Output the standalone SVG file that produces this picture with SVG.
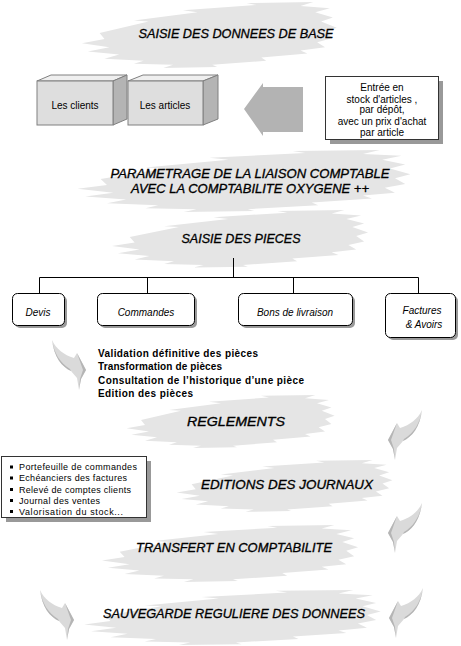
<svg xmlns="http://www.w3.org/2000/svg" xmlns:xlink="http://www.w3.org/1999/xlink" width="461" height="646" viewBox="0 0 461 646">
<style>
.t{font-family:"Liberation Sans",Arial,sans-serif;font-style:italic;font-size:12px;text-anchor:middle;fill:#000;stroke:#000;stroke-width:0.3}
.s{font-family:"Liberation Sans",Arial,sans-serif;font-size:10px;fill:#000}
.c{text-anchor:middle}
.i{font-style:italic}
.b{font-weight:bold}
.sm{font-size:9px}
.brush{fill:#e5e5e5}
.shadow{fill:#999}
.pbox{fill:#fff;stroke:#000;stroke-width:1}
.nbox{fill:#fff;stroke:#333;stroke-width:1}
.line{stroke:#000;stroke-width:1;fill:none}
.front{fill:#dedede;stroke:#808080;stroke-width:1}
.top{fill:#efefef;stroke:#808080;stroke-width:1}
.side{fill:#b4b4b4;stroke:#808080;stroke-width:1}
.sw{fill:#dadada}
.swd{fill:#b5b5b5}
</style>
<defs>
<path id="brush" d="M20,30 L70,19 L55,18 L120,10 L105,8 L180,3 L170,1 L238,0 L225,4 L255,6 L240,10 L258,15 L246,19 L262,25 L250,29 L258,35 L242,39 L250,44 L225,47 L232,50 L185,54 L190,57 L135,61 L140,63 L85,64 L95,61 L55,60 L65,57 L25,55 L40,51 L8,48 L30,44 L2,40 L25,36 Z"/>
<g id="swoosh">
<path class="sw" d="M52,13 C48,22 40,28 30,31 L27,26 L18,43 L23,52 L25,63 L27,51 L33,44 C42,40 50,30 52,13 Z"/>
<path class="swd" d="M27,26 L18,43 L23,52 L25,63 L24,52 L21,43 Z"/>
<path class="swd" d="M52,13 C50,30 42,40 33,44 L34,42 C44,36 50,26 52,13 Z"/>
</g>
</defs>

<g id="title-saisie-base">
<use xlink:href="#brush" class="brush" transform="translate(80,2) scale(0.98,1.03)"/>
<text class="t" x="236" y="37.5" textLength="195" lengthAdjust="spacingAndGlyphs">SAISIE DES DONNEES DE BASE</text>
</g>

<g id="box-clients">
<polygon class="top" points="37,81 51,75 127,75 113,81"/>
<polygon class="side" points="113,81 127,75 127,119 113,125"/>
<rect class="front" x="37" y="81" width="76" height="44"/>
<text class="s c" x="75" y="109">Les clients</text>
</g>

<g id="box-articles">
<polygon class="top" points="128,81 143,75 218,75 203,81"/>
<polygon class="side" points="203,81 218,75 218,119 203,125"/>
<rect class="front" x="128" y="81" width="75" height="44"/>
<text class="s c" x="165" y="109">Les articles</text>
</g>

<g id="arrow-entree">
<polygon fill="#b3b3b3" points="244,109 263,83 263,87 303,87 303,132 263,132 263,136"/>
</g>

<g id="note-stock">
<rect class="shadow" x="330" y="81" width="113" height="63"/>
<rect class="nbox" x="325.5" y="76.5" width="113" height="63"/>
<text class="s c" x="382" y="90.5">Entrée en</text>
<text class="s c" x="382" y="102.5">stock d'articles ,</text>
<text class="s c" x="382" y="113">par dépôt,</text>
<text class="s c" x="382" y="124.5">avec un prix d'achat</text>
<text class="s c" x="382" y="135.5">par article</text>
</g>

<g id="title-parametrage">
<use xlink:href="#brush" class="brush" transform="translate(75,150) scale(1.28,0.97)"/>
<text class="t" x="250" y="178" textLength="279" lengthAdjust="spacingAndGlyphs">PARAMETRAGE DE LA LIAISON COMPTABLE</text>
<text class="t" x="250" y="193" textLength="238" lengthAdjust="spacingAndGlyphs">AVEC LA COMPTABILITE OXYGENE ++</text>
</g>

<g id="title-saisie-pieces">
<use xlink:href="#brush" class="brush" transform="translate(110,210) scale(0.985,0.9)"/>
<text class="t" x="241" y="243" textLength="119" lengthAdjust="spacingAndGlyphs">SAISIE DES PIECES</text>
</g>

<g id="connectors">
<path class="line" d="M233.5,258 V277.5 M39.5,277.5 H418.5 M39.5,277.5 V293 M147.5,277.5 V293 M293.5,277.5 V293 M418.5,277.5 V293"/>
<use xlink:href="#swoosh" transform="translate(104,327) scale(-1,1)"/>
<use xlink:href="#swoosh" transform="translate(370,397)"/>
<use xlink:href="#swoosh" transform="translate(370,490)"/>
<use xlink:href="#swoosh" transform="translate(92,577) scale(-1,1)"/>
<use xlink:href="#swoosh" transform="translate(371,575)"/>
</g>

<g id="proc-devis">
<rect class="shadow" x="15" y="296" width="52" height="32" rx="5"/>
<rect class="pbox" x="12.5" y="293.5" width="52" height="32" rx="5"/>
<text class="s c i" x="38" y="315.5">Devis</text>
</g>

<g id="proc-commandes">
<rect class="shadow" x="100" y="296" width="97" height="32" rx="5"/>
<rect class="pbox" x="97.5" y="293.5" width="97" height="32" rx="5"/>
<text class="s c i" x="146" y="315.5">Commandes</text>
</g>

<g id="proc-bons">
<rect class="shadow" x="241" y="296" width="114" height="32" rx="5"/>
<rect class="pbox" x="238.5" y="293.5" width="114" height="32" rx="5"/>
<text class="s c i" x="295" y="315.5">Bons de livraison</text>
</g>

<g id="proc-factures">
<rect class="shadow" x="388" y="296" width="70" height="44" rx="5"/>
<rect class="pbox" x="385.5" y="293.5" width="70" height="44" rx="5"/>
<text class="s c i" x="422" y="313.5">Factures</text>
<text class="s c i" x="424" y="327.5">&amp; Avoirs</text>
</g>

<g id="list-pieces">
<text class="s b" x="98" y="356.5" textLength="160" lengthAdjust="spacing">Validation définitive des pièces</text>
<text class="s b" x="98" y="370" textLength="124" lengthAdjust="spacing">Transformation de pièces</text>
<text class="s b" x="98" y="383.5" textLength="206" lengthAdjust="spacing">Consultation de l’historique d’une pièce</text>
<text class="s b" x="98" y="396.5" textLength="95" lengthAdjust="spacing">Edition des pièces</text>
</g>

<g id="title-reglements">
<use xlink:href="#brush" class="brush" transform="translate(125,395) scale(0.8,0.83)"/>
<text class="t" x="236" y="426" textLength="98" lengthAdjust="spacingAndGlyphs">REGLEMENTS</text>
</g>

<g id="list-editions">
<rect class="shadow" x="6" y="461" width="145" height="61"/>
<rect class="nbox" x="1.5" y="456.5" width="145" height="61"/>
<rect x="10" y="465.5" width="3" height="3" fill="#000"/>
<rect x="10" y="476.5" width="3" height="3" fill="#000"/>
<rect x="10" y="488" width="3" height="3" fill="#000"/>
<rect x="10" y="499" width="3" height="3" fill="#000"/>
<rect x="10" y="510" width="3" height="3" fill="#000"/>
<text class="s sm" x="19" y="470" textLength="118" lengthAdjust="spacing">Portefeuille de commandes</text>
<text class="s sm" x="19" y="481" textLength="108" lengthAdjust="spacing">Echéanciers des factures</text>
<text class="s sm" x="19" y="493" textLength="112" lengthAdjust="spacing">Relevé de comptes clients</text>
<text class="s sm" x="19" y="504" textLength="81" lengthAdjust="spacing">Journal des ventes</text>
<text class="s sm" x="19" y="515" textLength="104" lengthAdjust="spacing">Valorisation du stock...</text>
</g>

<g id="title-editions">
<use xlink:href="#brush" class="brush" transform="translate(175,460) scale(0.83,0.81)"/>
<text class="t" x="287" y="489" textLength="172" lengthAdjust="spacingAndGlyphs">EDITIONS DES JOURNAUX</text>
</g>

<g id="title-transfert">
<use xlink:href="#brush" class="brush" transform="translate(100,525) scale(0.985,0.89)"/>
<text class="t" x="234" y="552" textLength="196" lengthAdjust="spacingAndGlyphs">TRANSFERT EN COMPTABILITE</text>
</g>

<g id="title-sauvegarde">
<use xlink:href="#brush" class="brush" transform="translate(82,590) scale(1.14,0.86)"/>
<text class="t" x="234" y="618" textLength="262" lengthAdjust="spacingAndGlyphs">SAUVEGARDE REGULIERE DES DONNEES</text>
</g>
</svg>
